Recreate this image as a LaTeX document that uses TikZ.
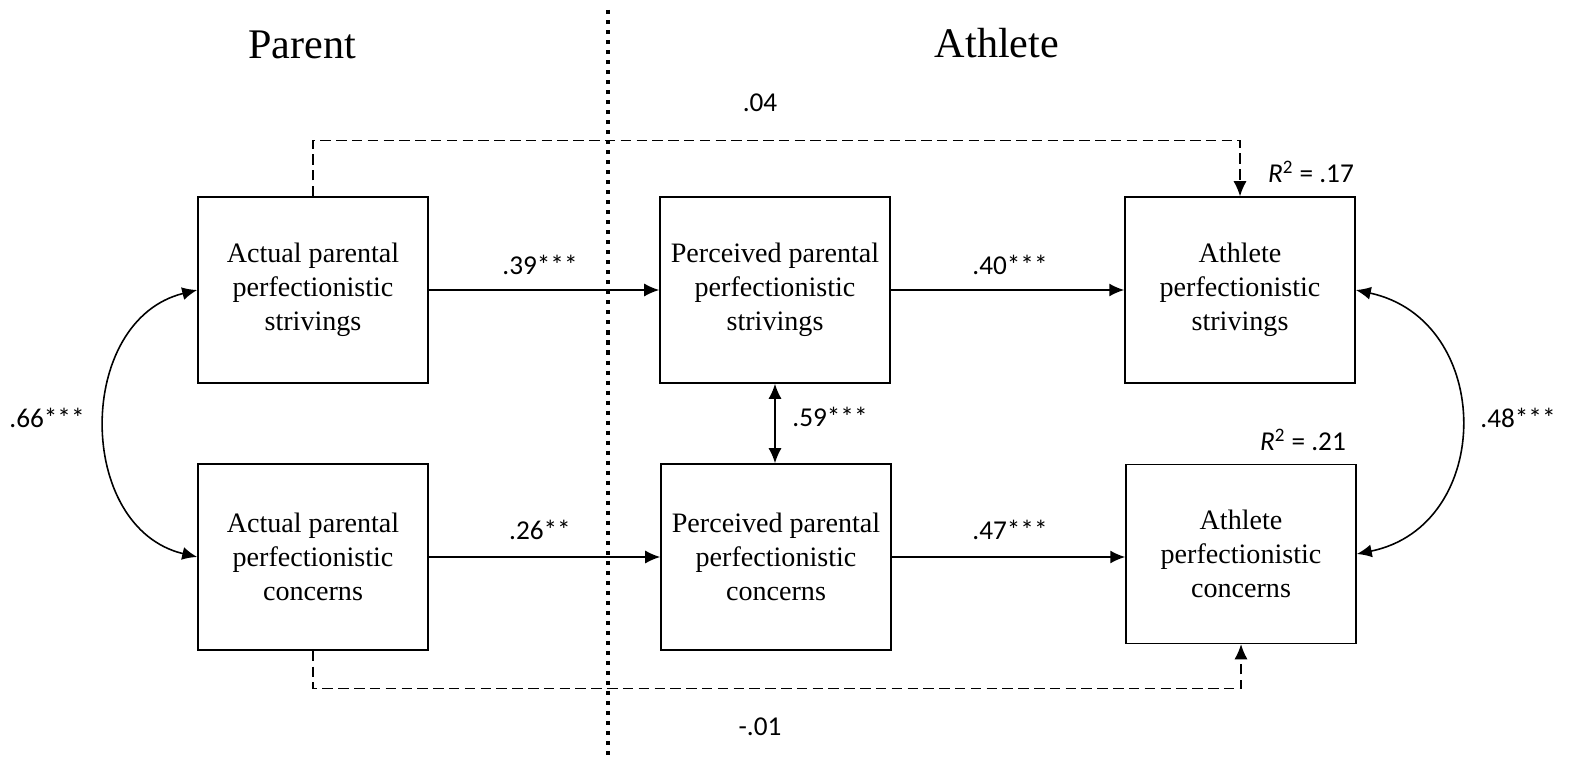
\documentclass[tikz,border=0pt]{standalone}
\usepackage{fontspec}
\setmainfont{Liberation Serif}
\newfontfamily\labelfont{Carlito}
\usetikzlibrary{arrows.meta}

\begin{document}
\begin{tikzpicture}[x=0.02cm, y=-0.02cm,
  box/.style={draw, line width=0.9pt, minimum width=4.6cm, minimum height=3.72cm,
    align=center, font=\fontsize{16}{19.3}\selectfont},
  coef/.style={font=\labelfont\fontsize{15.5}{18}\selectfont},
  title/.style={font=\fontsize{24}{28}\selectfont},
  path/.style={line width=0.9pt, -{Latex[length=3mm,width=2.6mm]}},
  both/.style={line width=0.9pt, {Latex[length=3mm,width=2.6mm]}-{Latex[length=3mm,width=2.6mm]}},
  nonsig/.style={path, line width=0.7pt, dash pattern=on 6pt off 3pt}]

\useasboundingbox (0,0) rectangle (1574,759);

% group divider
\coordinate (divtop) at (608,10);
\coordinate (divbot) at (608,759);
\draw[line width=2.3pt, dash pattern=on 2.3pt off 3.4pt] (divtop) -- (divbot);
\node [title] (parent) at (302,45) {Parent};
\node [title] (athlete) at (997,43) {Athlete};

% boxes
\node [box] (apps) at (313,290) {Actual parental\\perfectionistic\\strivings};
\node [box] (appc) at (313,557) {Actual parental\\perfectionistic\\concerns};
\node [box] (ppps) at (775,290) {Perceived parental\\perfectionistic\\strivings};
\node [box] (pppc) at (776,557) {Perceived parental\\perfectionistic\\concerns};
\node [box] (aps) at (1240,290) {Athlete\\perfectionistic\\strivings};
\node [box, minimum height=3.58cm] (apc) at (1241,554) {Athlete\\perfectionistic\\concerns};

% direct paths
\draw[path] (apps) -- (ppps);
\node [coef] (c39) at (540,265) {.39***};
\draw[path] (ppps) -- (aps);
\node [coef] (c40) at (1010,265) {.40***};
\draw[path] (appc) -- (pppc);
\node [coef] (c26) at (540,530) {.26**};
\draw[path] (pppc.east) -- (apc.west |- pppc.east);
\node [coef] (c47) at (1010,530) {.47***};

% covariances
\draw[both] (ppps) -- (ppps |- pppc.north);
\node [coef] (c59) at (830,417) {.59***};
\draw[both] (apps.west) .. controls (75,320) and (75,528) .. (appc.west);
\node [coef] (c66) at (47,418) {.66***};
\draw[both] (aps.east) .. controls (1495,320) and (1495,526) .. (apc.east);
\node [coef] (c48) at (1518,418) {.48***};

% cross-lagged paths
\draw[nonsig] (apps.north) -- ++(0,-56) -| (aps.north);
\node [coef] (c04) at (760,103) {.04};
\draw[nonsig] (appc.south) -- ++(0,38) -| (apc.south);
\node [coef] (c01) at (760,727) {-.01};

% explained variance
\node [coef] (r17) at (1311,172) {\itshape R\upshape\textsuperscript{2} = .17};
\node [coef] (r21) at (1303,440) {\itshape R\upshape\textsuperscript{2} = .21};

\end{tikzpicture}
\end{document}
